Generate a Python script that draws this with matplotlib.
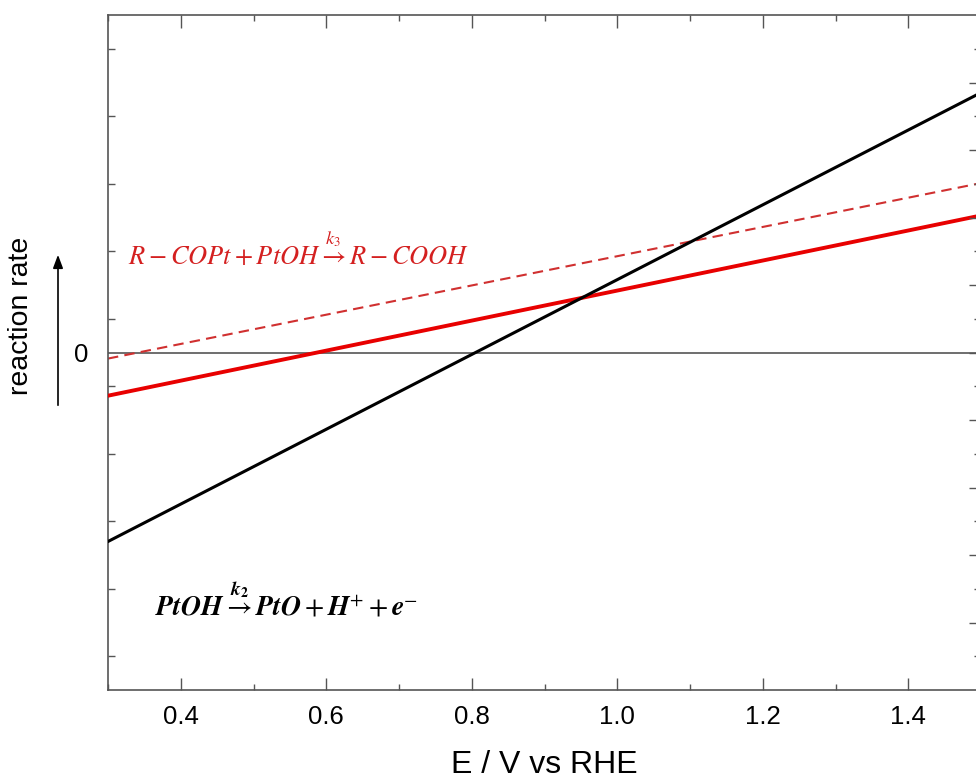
import matplotlib
matplotlib.use("Agg")
import matplotlib.pyplot as plt
import numpy as np
from matplotlib.ticker import MultipleLocator, FixedLocator, NullFormatter

plt.rcParams['font.family'] = ['Liberation Sans', 'DejaVu Sans']
plt.rcParams['mathtext.fontset'] = 'stix'

# Data
E_k2 = [0.3, 1.5]
rate_k2 = [-2.80, 3.85]
E_k3 = [0.3, 1.5]
rate_k3 = [-0.64, 2.03]
E_k3_dash = [0.3, 1.5]
rate_k3_dash = [-0.09, 2.51]

xticks = [0.4, 0.6, 0.8, 1.0, 1.2, 1.4]
xtick_labels = ["0.4", "0.6", "0.8", "1.0", "1.2", "1.4"]

W, H = 976, 780
fig = plt.figure(figsize=(W / 100, H / 100), dpi=100)
left, right, top, bottom = 108, 981, 15, 690
ax = fig.add_axes([left / W, 1 - bottom / H, (right - left) / W, (bottom - top) / H])

spine_col = '#555555'
ax.axhline(0, color='#555555', lw=1.2, zorder=1)
ax.plot(E_k3_dash, rate_k3_dash, color='#d03030', lw=1.5, ls=(0, (5, 3)), zorder=2)
ax.plot(E_k3, rate_k3, color='#e80000', lw=2.8, zorder=3)
ax.plot(E_k2, rate_k2, color='black', lw=2.2, zorder=4)

ax.set_xlim(0.3, 1.5)
ax.set_ylim(-5, 5)

for s in ax.spines.values():
    s.set_color(spine_col)
    s.set_linewidth(1.2)

ax.set_xticks(xticks)
ax.set_xticklabels(xtick_labels)
ax.xaxis.set_minor_locator(MultipleLocator(0.1))
ax.tick_params(axis='x', which='major', direction='in', length=9, width=1, colors=spine_col,
               top=True, bottom=True, labelsize=18.5, labelcolor='black', pad=11)
ax.tick_params(axis='x', which='minor', direction='in', length=4.5, width=1, colors=spine_col,
               top=True, bottom=True)

# left: label "0" only, minor ticks at half-units
ax.yaxis.set_major_locator(FixedLocator([0]))
ax.set_yticklabels(["0"])
ax.yaxis.set_minor_locator(FixedLocator(np.arange(-4.5, 5, 1.0)))
ax.yaxis.set_minor_formatter(NullFormatter())
ax.tick_params(axis='y', which='major', length=0, labelsize=18.5, labelcolor='black', pad=14, right=False)
ax.tick_params(axis='y', which='minor', direction='in', length=5, width=1, colors=spine_col, right=False)

ax2 = ax.twinx()
ax2.set_ylim(-5, 5)
ax2.yaxis.set_major_locator(FixedLocator(np.arange(-4, 5, 1.0)))
ax2.yaxis.set_minor_locator(FixedLocator(np.arange(-4.5, 5, 1.0)))
ax2.yaxis.set_major_formatter(NullFormatter())
ax2.yaxis.set_minor_formatter(NullFormatter())
ax2.tick_params(axis='y', which='major', direction='in', length=9, width=1, colors=spine_col)
ax2.tick_params(axis='y', which='minor', direction='in', length=5, width=1, colors=spine_col)
for s in ax2.spines.values():
    s.set_visible(False)

ax.text(0.327, 1.29, r'$R - COPt + PtOH \overset{k_3}{\rightarrow} R - COOH$',
        color='#d42020', fontsize=19, ha='left', va='baseline', zorder=5)
ax.text(0.364, -3.9,
        r'$\mathbfit{PtOH} \overset{\mathbfit{k}_{\mathbf{2}}}{\rightarrow} \mathbfit{PtO} + \mathbfit{H}^{+} + \mathbfit{e}^{-}$',
        color='black', fontsize=20, ha='left', va='baseline', zorder=5)

fig.text(544 / W, 1 - 765 / H, 'E / V vs RHE', ha='center', va='center', fontsize=23)
fig.text(21 / W, 1 - 316 / H, 'reaction rate', ha='center', va='center', rotation=90, fontsize=20.5)
fig.add_artist(matplotlib.patches.FancyArrowPatch(
    (58 / W, 1 - 408 / H), (58 / W, 1 - 252 / H), transform=fig.transFigure,
    arrowstyle='-|>,head_length=8,head_width=3', color='black', lw=1.2, mutation_scale=1))

fig.savefig('out.png', dpi=100)
